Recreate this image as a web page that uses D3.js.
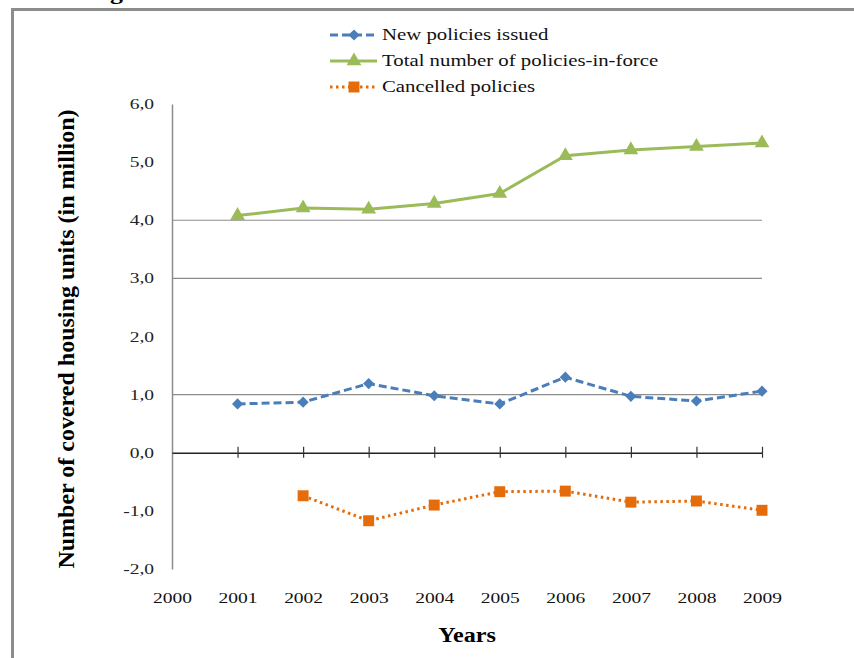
<!DOCTYPE html>
<html>
<head>
<meta charset="utf-8">
<script src="https://cdn.jsdelivr.net/npm/d3@7"></script>
<style>
	body { margin: 0; background: #fff; }
	text { font-family: "Liberation Serif", "Times New Roman", serif; }
</style>
</head>
<body>
<div id="chart"></div>
<script>
// values (million housing units)
var years = [2001, 2002, 2003, 2004, 2005, 2006, 2007, 2008, 2009]
var newPolicies = [0.84, 0.87, 1.19, 0.98, 0.84, 1.30, 0.97, 0.89, 1.06]
var totalInForce = [4.08, 4.21, 4.19, 4.29, 4.46, 5.11, 5.21, 5.27, 5.33]
var cancelledYears = [2002, 2003, 2004, 2005, 2006, 2007, 2008, 2009]
var cancelled = [-0.74, -1.17, -0.90, -0.67, -0.66, -0.85, -0.83, -0.99]

var xTicks = [2000, 2001, 2002, 2003, 2004, 2005, 2006, 2007, 2008, 2009]
var yTicks = [-2, -1, 0, 1, 2, 3, 4, 5, 6]
var gridValues = [1, 3, 4]
var seriesNames = ["New policies issued", "Total number of policies-in-force", "Cancelled policies"]

var W = 854, H = 658
var svg = d3.select("#chart")
	.append("svg")
	.attr("width", W)
	.attr("height", H)

// the picture is a bit stretched sideways, so the text is too
var sx = 1.3

// frame of the scanned figure
svg.append("path")
	.attr("d", "M12.5,658 L12.5,9.5 L854,9.5")
	.attr("fill", "none")
	.attr("stroke", "#8c8c8c")
	.attr("stroke-width", 3)

// bottom of the caption above the frame, cut off by the scan
svg.append("text")
	.attr("transform", "translate(110,-1) scale(" + sx + ",1)")
	.style("font-size", "20px")
	.style("font-weight", "bold")
	.text("g")

var x = d3.scaleLinear().domain([2000, 2009]).range([172, 762])
var y = d3.scaleLinear().domain([-2, 6]).range([569, 104])

// grid lines
svg.append("g")
	.selectAll("line")
	.data(gridValues)
	.enter()
	.append("line")
		.attr("x1", x(2000))
		.attr("x2", x(2009))
		.attr("y1", function(d) { return y(d) })
		.attr("y2", function(d) { return y(d) })
		.attr("stroke", "#8c8c8c")
		.attr("stroke-width", 1.2)

// y axis (no ticks, only labels), comma decimals and a plain hyphen
var yAxis = svg.append("g")
	.attr("transform", "translate(" + x(2000) + ",0)")
	.call(d3.axisLeft(y).tickValues(yTicks).tickSize(0)
		.tickFormat(function(d) { return d.toFixed(1).replace(".", ",") }))
yAxis.select(".domain").attr("stroke", "#8c8c8c").attr("stroke-width", 1.5)
yAxis.selectAll(".tick").attr("transform", null)
yAxis.selectAll("text")
	.attr("x", null)
	.attr("y", null)
	.attr("dy", null)
	.attr("transform", function(d) { return "translate(-18," + (y(d) + 5) + ") scale(" + sx + ",1)" })
	.style("font-family", "Liberation Serif")
	.style("font-size", "15px")
	.attr("fill", "#222")

// x axis sits on zero, ticks cross the line
var xAxis = svg.append("g")
	.attr("transform", "translate(0," + y(0) + ")")
	.call(d3.axisBottom(x).tickValues(xTicks).tickSizeInner(5).tickSizeOuter(0).tickFormat(d3.format("d")))
xAxis.select(".domain").attr("stroke", "#222").attr("stroke-width", 1.5)
xAxis.selectAll(".tick line")
	.attr("y1", -6)
	.attr("y2", 5)
	.attr("stroke", "#333")
	.attr("stroke-width", 1.2)
	.filter(function(d) { return d == 2000 }).remove()
xAxis.selectAll(".tick text")
	.attr("y", null)
	.attr("dy", null)
	.attr("transform", "translate(0," + (603 - y(0)) + ") scale(" + sx + ",1)")
	.style("font-family", "Liberation Serif")
	.style("font-size", "15px")
	.attr("fill", "#111")

// axis titles
svg.append("text")
	.attr("transform", "translate(467,642) scale(1.15,1)")
	.attr("text-anchor", "middle")
	.style("font-size", "21px")
	.style("font-weight", "bold")
	.text("Years")

svg.append("text")
	.attr("transform", "translate(74,339) rotate(-90)")
	.attr("text-anchor", "middle")
	.style("font-size", "24px")
	.style("font-weight", "bold")
	.text("Number of covered housing units (in million)")

// series
var blue = "#4a7ebb", green = "#9bbb59", orange = "#e46c0a"

function pts(xs, ys) {
	return xs.map(function(d, i) { return [d, ys[i]] })
}

var line = d3.line()
	.x(function(d) { return x(d[0]) })
	.y(function(d) { return y(d[1]) })

var series = [
	{data: pts(years, totalInForce), color: green, dash: null, symbol: d3.symbolTriangle, size: 95, rot: 0},
	{data: pts(years, newPolicies), color: blue, dash: "8,4", symbol: d3.symbolSquare, size: 62, rot: 45},
	{data: pts(cancelledYears, cancelled), color: orange, dash: "2.5,3.5", symbol: d3.symbolSquare, size: 120, rot: 0}
]

series.forEach(function(s) {
	svg.append("path")
		.datum(s.data)
		.attr("d", line)
		.attr("fill", "none")
		.attr("stroke", s.color)
		.attr("stroke-width", 3)
		.attr("stroke-dasharray", s.dash)

	svg.selectAll()
		.data(s.data)
		.enter()
		.append("path")
			.attr("d", d3.symbol().type(s.symbol).size(s.size))
			.attr("transform", function(d) { return "translate(" + x(d[0]) + "," + y(d[1]) + ") rotate(" + s.rot + ")" })
			.attr("fill", s.color)
})

// legend
var legendSeries = [series[1], series[0], series[2]]
var legend = svg.append("g")
legendSeries.forEach(function(s, i) {
	var ly = 35 + i * 26
	legend.append("line")
		.attr("x1", 330).attr("x2", 377)
		.attr("y1", ly).attr("y2", ly)
		.attr("stroke", s.color)
		.attr("stroke-width", 3)
		.attr("stroke-dasharray", s.dash)
	legend.append("path")
		.attr("d", d3.symbol().type(s.symbol).size(s.size))
		.attr("transform", "translate(354," + ly + ") rotate(" + s.rot + ")")
		.attr("fill", s.color)
	legend.append("text")
		.attr("transform", "translate(382," + (ly + 5) + ") scale(" + sx + ",1)")
		.style("font-size", "16px")
		.attr("fill", "#111")
		.text(seriesNames[i])
})
</script>
</body>
</html>
